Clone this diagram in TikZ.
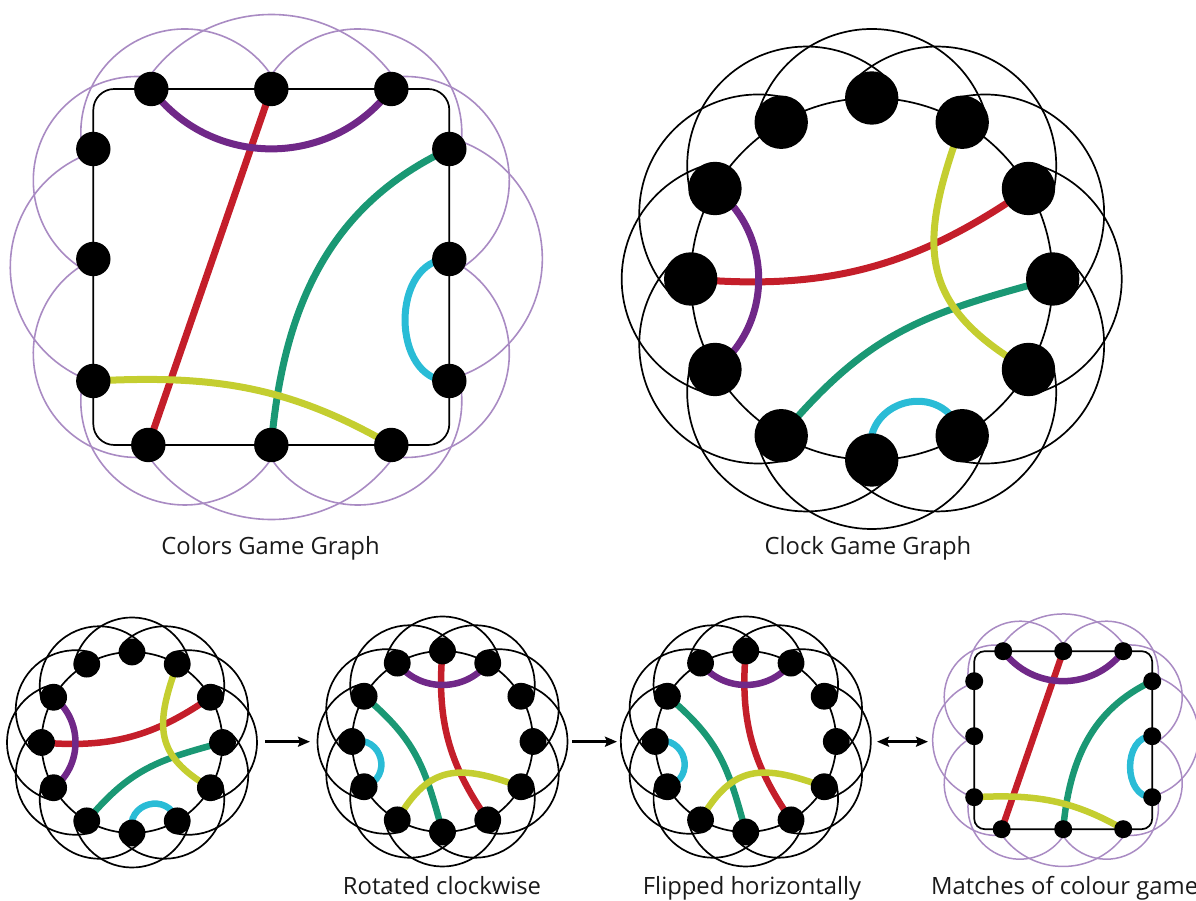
\documentclass[tikz,border=0pt]{standalone}
\usepackage{fontspec}
\setmainfont{Open Sans}
\usetikzlibrary{calc,arrows.meta}
\pgfdeclarelayer{bg}
\pgfsetlayers{bg,main}
\definecolor{lpurple}{RGB}{169,139,195}
\definecolor{cpurple}{RGB}{112,40,136}
\definecolor{cred}{RGB}{196,30,42}
\definecolor{cgreen}{RGB}{26,152,116}
\definecolor{cyellow}{RGB}{196,206,48}
\definecolor{ccyan}{RGB}{42,188,214}
\definecolor{txt}{RGB}{26,26,26}

\tikzset{
  cdot/.style={circle,fill=black,draw=none,inner sep=0pt,outer sep=0pt,minimum size=#1},
  lbl/.style={font=\fontsize{23.8}{28}\selectfont,text=txt,anchor=base,inner sep=0pt},
  arr/.style={line width=2.4pt,-{Stealth[length=12pt,width=10pt,inset=2pt]}},
  arrboth/.style={line width=2.4pt,{Stealth[length=12pt,width=10pt,inset=2pt]}-{Stealth[length=12pt,width=10pt,inset=2pt]}}
}

% circular arc around a given centre, from the point facing node #4 to the point facing node #5 (counter-clockwise)
\newcommand{\outerarc}[5]{%
  \draw[#1] let \p1=#2, \p2=(#4), \p3=(#5),
    \n1={atan2(\y2-\y1,\x2-\x1)},
    \n2={atan2(\y3-\y1,\x3-\x1)},
    \n3={mod(\n2-\n1+720,360)} in
    #2 ++(\n1:#3) arc[start angle=\n1, delta angle=\n3, radius=#3];%
}

\newcommand{\clocknodes}[2]{%
  \foreach \ang in {0,30,...,330}{\node[cdot=#2] (#1\ang) at (\ang:181) {};}%
}
\newcommand{\clockring}[2]{%
  \draw[line width=#2] (0,0) circle[radius=181];
  \foreach \ang in {0,30,...,330}{%
    \pgfmathtruncatemacro{\angA}{mod(\ang+330,360)}%
    \pgfmathtruncatemacro{\angB}{mod(\ang+30,360)}%
    \outerarc{line width=#2}{(\ang:131)}{119}{#1\angA}{#1\angB}%
  }%
}
\newcommand{\chordsA}[2]{%
  \draw[cred,line width=#2] (#1180.center) .. controls +(-5:137) and +(215:137) .. (#130.center);
  \draw[cgreen,line width=#2] (#10.center) .. controls +(195:135) and +(50:135) .. (#1240.center);
  \draw[ccyan,line width=#2] (#1270.center) .. controls +(103:62) and +(107:62) .. (#1300.center);
  \draw[cpurple,line width=#2] (#1150.center) .. controls +(-38:74) and +(38:74) .. (#1210.center);
  \draw[cyellow,line width=#2] (#160.center) .. controls +(-110:130) and +(150:130) .. (#1330.center);
}
\newcommand{\chordsB}[2]{%
  \draw[cred,line width=#2] (#190.center) .. controls +(-95:137) and +(125:137) .. (#1300.center);
  \draw[cgreen,line width=#2] (#1270.center) .. controls +(105:135) and +(-40:135) .. (#1150.center);
  \draw[ccyan,line width=#2] (#1180.center) .. controls +(13:62) and +(17:62) .. (#1210.center);
  \draw[cpurple,line width=#2] (#160.center) .. controls +(-128:74) and +(-52:74) .. (#1120.center);
  \draw[cyellow,line width=#2] (#1330.center) .. controls +(160:130) and +(60:130) .. (#1240.center);
}

\newcommand{\colorsnodes}[2]{%
  \node[cdot=#2] (#10) at (-120,178) {};
  \node[cdot=#2] (#11) at (0,178) {};
  \node[cdot=#2] (#12) at (120,178) {};
  \node[cdot=#2] (#13) at (178,118) {};
  \node[cdot=#2] (#14) at (178,8) {};
  \node[cdot=#2] (#15) at (178,-114) {};
  \node[cdot=#2] (#16) at (120,-178) {};
  \node[cdot=#2] (#17) at (0,-178) {};
  \node[cdot=#2] (#18) at (-123,-178) {};
  \node[cdot=#2] (#19) at (-178,-114) {};
  \node[cdot=#2] (#110) at (-178,8) {};
  \node[cdot=#2] (#111) at (-178,118) {};
}
\newcommand{\colorsrest}[5]{%
  \outerarc{lpurple,line width=#5}{(0,101.5)}{151}{#12}{#10}
  \outerarc{lpurple,line width=#5}{(86.5,134)}{104}{#13}{#11}
  \outerarc{lpurple,line width=#5}{(134,86.5)}{104}{#14}{#12}
  \outerarc{lpurple,line width=#5}{(146,8.5)}{125}{#15}{#13}
  \outerarc{lpurple,line width=#5}{(134,-86.5)}{104}{#16}{#14}
  \outerarc{lpurple,line width=#5}{(86.5,-134)}{104}{#17}{#15}
  \outerarc{lpurple,line width=#5}{(0,-101.5)}{151}{#18}{#16}
  \outerarc{lpurple,line width=#5}{(-86.5,-134)}{104}{#19}{#17}
  \outerarc{lpurple,line width=#5}{(-134,-86.5)}{104}{#110}{#18}
  \outerarc{lpurple,line width=#5}{(-140,0)}{121}{#111}{#19}
  \outerarc{lpurple,line width=#5}{(-134,86.5)}{104}{#10}{#110}
  \outerarc{lpurple,line width=#5}{(-86.5,134)}{104}{#11}{#111}
  \draw[line width=#2,rounded corners=#3] (-178,-178) rectangle (178,178);
  \draw[cred,line width=#4] (#11.center) -- (#18.center);
  \draw[cgreen,line width=#4] (#13.center) .. controls +(205:135) and +(85:135) .. (#17.center);
  \draw[ccyan,line width=#4] (#14.center) .. controls +(180:59) and +(180:59) .. (#15.center);
  \draw[cpurple,line width=#4] (#10.center) .. controls +(-53:100) and +(-127:100) .. (#12.center);
  \draw[cyellow,line width=#4] (#19.center) .. controls +(3:119) and +(150:119) .. (#16.center);
}

\begin{document}
\begin{tikzpicture}[x=1pt,y=1pt]
\path[use as bounding box] (0,0) rectangle (1196,901);
\clip (0,0) rectangle (1196,901);

% Colors game graph (large)
\begin{scope}[shift={(271.3,634)}]
  \colorsnodes{A}{34.4pt}
  \begin{pgfonlayer}{bg}\colorsrest{A}{1.7pt}{21pt}{7pt}{1.6pt}\end{pgfonlayer}
\end{scope}

% Clock game graph (large)
\begin{scope}[shift={(871.7,622)}]
  \clocknodes{B}{53.4pt}
  \begin{pgfonlayer}{bg}\clockring{B}{1.7pt}\chordsA{B}{7pt}\end{pgfonlayer}
\end{scope}

% small clock
\begin{scope}[shift={(132,158.5)},scale=0.5]
  \clocknodes{C}{26.8pt}
  \begin{pgfonlayer}{bg}\clockring{C}{1.7pt}\chordsA{C}{6.5pt}\end{pgfonlayer}
\end{scope}

% rotated
\begin{scope}[shift={(442.5,159.5)},scale=0.5]
  \clocknodes{D}{26.8pt}
  \begin{pgfonlayer}{bg}\clockring{D}{1.7pt}\chordsB{D}{6.5pt}\end{pgfonlayer}
\end{scope}

% flipped
\begin{scope}[shift={(745.8,159.5)},scale=0.5]
  \clocknodes{E}{26.8pt}
  \begin{pgfonlayer}{bg}\clockring{E}{1.7pt}\chordsB{E}{6.5pt}\end{pgfonlayer}
\end{scope}

% small colors graph
\begin{scope}[shift={(1063.2,160.8)},scale=0.5]
  \colorsnodes{F}{18pt}
  \begin{pgfonlayer}{bg}\colorsrest{F}{1.7pt}{10.5pt}{6.5pt}{1.5pt}\end{pgfonlayer}
\end{scope}

% arrows
\coordinate (a1s) at (265,159.3);
\coordinate (a1e) at (310,159.3);
\coordinate (a2s) at (572,159.3);
\coordinate (a2e) at (617,159.3);
\coordinate (a3s) at (877,159.3);
\coordinate (a3e) at (928,159.3);
\draw[arr] (a1s) -- (a1e);
\draw[arr] (a2s) -- (a2e);
\draw[arrboth] (a3s) -- (a3e);

% labels
\node[lbl] (L1) at (270.5,346) {Colors Game Graph};
\node[lbl] (L2) at (868,346) {Clock Game Graph};
\node[lbl] (L3) at (442,6) {Rotated clockwise};
\node[lbl] (L4) at (752,6) {Flipped horizontally};
\node[lbl,anchor=base west] (L5) at (931,6) {Matches of colour game};
\end{tikzpicture}
\end{document}
